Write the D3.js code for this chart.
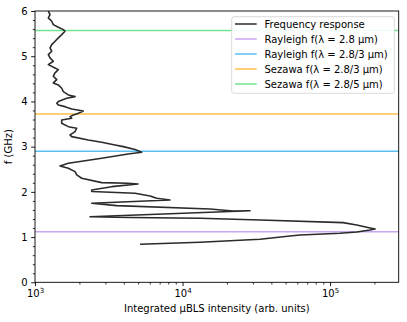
<!DOCTYPE html>
<html><head><meta charset="utf-8">
<script src="https://cdn.jsdelivr.net/npm/d3@7"></script>
<style>body{margin:0;background:#fff;} svg{display:block;} text{font-family:"DejaVu Sans",sans-serif;fill:#000;}</style>
</head><body><svg id="c" width="407" height="322"></svg>
<script>
// ---- data ----
const freqGHz = [5.996,5.920,5.847,5.774,5.699,5.642,5.588,5.553,5.478,5.405,
 5.332,5.257,5.184,5.111,5.035,4.962,4.889,4.814,4.741,4.704,
 4.631,4.558,4.482,4.409,4.365,4.292,4.217,4.144,4.106,4.071,
 3.996,3.960,3.923,3.885,3.834,3.790,3.739,3.701,3.664,3.628,
 3.591,3.518,3.442,3.407,3.332,3.259,3.221,3.148,3.097,3.038,
 3.000,2.938,2.876,2.838,2.743,2.633,2.573,2.522,2.447,2.374,
 2.301,2.204,2.190,2.175,2.115,2.042,2.009,1.969,1.909,1.858,
 1.821,1.748,1.695,1.622,1.577,1.584,1.451,1.434,1.416,1.378,
 1.319,1.268,1.217,1.179,1.157,1.113,1.084,1.046,1.024,0.951,
 0.885,0.841];
const intensity = [1231,1264,1231,1298,1331,1439,1556,1597,1517,1439,
 1367,1298,1264,1298,1231,1264,1331,1231,1367,1439,
 1367,1331,1404,1331,1439,1517,1556,1682,1868,1640,
 1439,1404,1439,1597,1774,2126,1967,1819,1727,1774,
 1517,1517,1682,1918,1868,1727,1774,2298,2833,3487,
 3968,4764,5290,4271,2833,1682,1477,1682,1868,1918,
 2073,2833,4271,4993,3311,2424,2424,4764,6021,6686,
 8228,2424,3580,15360,21990,28680,2360,4406,13140,33530,
 122500,151700,177400,201900,186700,151700,116900,62600,53550,33530,
 13140,5151];
const lineLabel = "Frequency response";
const modeLabels = ["Rayleigh f(λ = 2.8 μm)","Rayleigh f(λ = 2.8/3 μm)","Sezawa f(λ = 2.8/3 μm)","Sezawa f(λ = 2.8/5 μm)"];
const modeFreqs = [1.12, 2.90, 3.72, 5.57];
const xTickExponents = [3,4,5];
const yTickValues = [0,1,2,3,4,5,6];
const xLabel = "Integrated μBLS intensity (arb. units)";
const yLabel = "f (GHz)";

// ---- styles ----
const modeColors = ["#c9a5f2","#5cbff3","#ffc04c","#70e590"];
const lineColor = "#2b2b2b";

const svg = d3.select("#c");
const L = 35, R = 398.7, T = 11, B = 282.3;
const x = d3.scaleLog().domain([1e3, 2.92e5]).range([L, R]);
const y = d3.scaleLinear().domain([0, 6]).range([B, T]);

// mode lines
modeFreqs.forEach((f,i)=>{
  svg.append("line").attr("x1",L).attr("x2",R).attr("y1",y(f)).attr("y2",y(f))
    .attr("stroke",modeColors[i]).attr("stroke-width",1.5);
});

// curve
const pts = freqGHz.map((f,i)=>({f, v:intensity[i]}));
svg.append("path").datum(pts)
  .attr("d", d3.line().x(d=>x(d.v)).y(d=>y(d.f)))
  .attr("fill","none").attr("stroke",lineColor).attr("stroke-width",1.6)
  .attr("stroke-linejoin","round");

// minor ticks
const xMinor = [];
for (let e=3;e<=5;e++) for (let k=2;k<=9;k++){ const v=k*Math.pow(10,e); if (v<=2.92e5) xMinor.push(v); }
const gxm = svg.append("g").attr("transform",`translate(0,${B})`)
  .call(d3.axisBottom(x).tickValues(xMinor).tickSize(2.2).tickFormat(""));
const yMinor = d3.range(0,6.001,0.2).filter(v=>Math.abs(v-Math.round(v))>1e-6);
const gym = svg.append("g").attr("transform",`translate(${L},0)`)
  .call(d3.axisLeft(y).tickValues(yMinor).tickSize(2.2).tickFormat(""));
[gxm,gym].forEach(g=>{g.select(".domain").remove(); g.selectAll("line").attr("stroke","#000").attr("stroke-width",0.8);});

// major ticks
const gx = svg.append("g").attr("transform",`translate(0,${B})`)
  .call(d3.axisBottom(x).tickValues(xTickExponents.map(e=>Math.pow(10,e))).tickSize(3.8).tickPadding(3).tickFormat(""));
gx.select(".domain").remove();
gx.selectAll("line").attr("stroke","#000").attr("stroke-width",0.9);
gx.selectAll(".tick").each(function(d,i){
  const t = d3.select(this).append("text").attr("y",15).attr("text-anchor","middle")
    .attr("font-size","10px").attr("fill","#000");
  t.append("tspan").text("10");
  t.append("tspan").attr("dy",-4.5).attr("font-size","7px").text(xTickExponents[i]);
});
const gy = svg.append("g").attr("transform",`translate(${L},0)`)
  .call(d3.axisLeft(y).tickValues(yTickValues).tickSize(3.8).tickPadding(3.5).tickFormat(d3.format("d")));
gy.select(".domain").remove();
gy.selectAll("line").attr("stroke","#000").attr("stroke-width",0.9);
gy.selectAll("text").attr("font-size","10px").attr("font-family","DejaVu Sans").attr("fill","#000");

// frame
svg.append("rect").attr("x",L).attr("y",T).attr("width",R-L).attr("height",B-T)
  .attr("fill","none").attr("stroke","#000").attr("stroke-width",0.9);

// axis labels
svg.append("text").attr("x",(L+R)/2).attr("y",312).attr("text-anchor","middle")
  .attr("font-size","10px").text(xLabel);
svg.append("text").attr("transform",`translate(12,${(T+B)/2}) rotate(-90)`).attr("text-anchor","middle")
  .attr("font-size","10px").text(yLabel);

// legend
const lg = svg.append("g");
lg.append("rect").attr("x",231.7).attr("y",16.7).attr("width",162.6).attr("height",76.6)
  .attr("rx",2.5).attr("fill","#fff").attr("fill-opacity",0.9).attr("stroke","#d6d6d6").attr("stroke-width",0.9);
const legItems = [{label:lineLabel,color:lineColor}].concat(modeLabels.map((l,i)=>({label:l,color:modeColors[i]})));
legItems.forEach((it,i)=>{
  const yy = 24 + 15*i;
  lg.append("line").attr("x1",235).attr("x2",256.7).attr("y1",yy).attr("y2",yy)
    .attr("stroke",it.color).attr("stroke-width",1.5);
  lg.append("text").attr("x",264.5).attr("y",yy+3.6).attr("font-size","10px").text(it.label);
});
</script></body></html>
